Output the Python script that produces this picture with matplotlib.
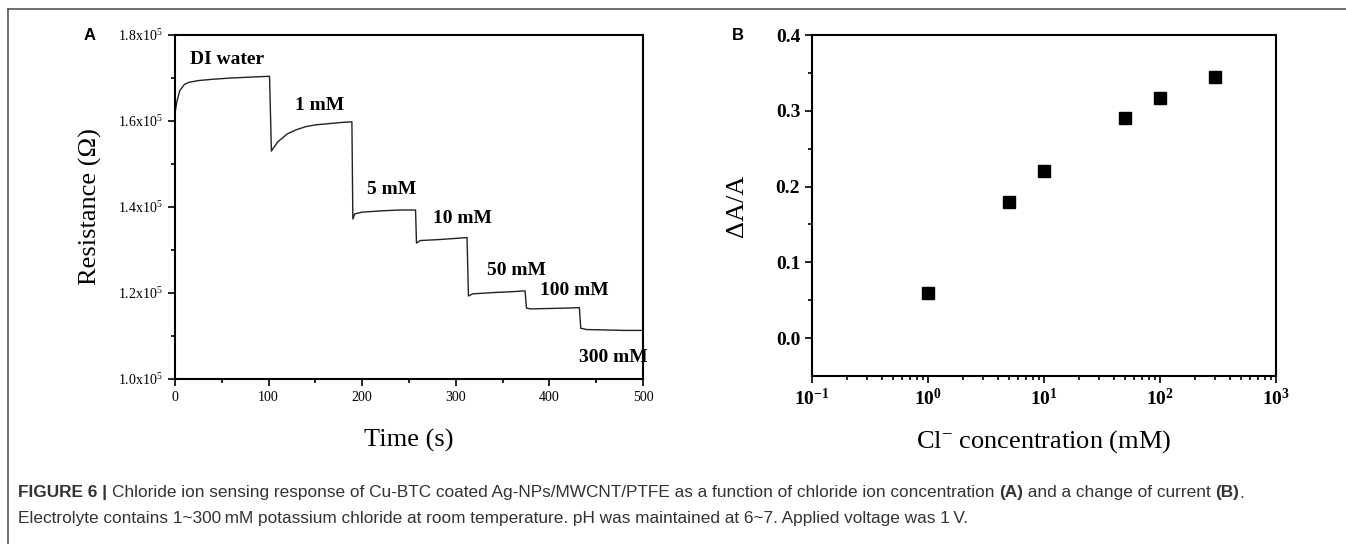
import matplotlib
matplotlib.use('Agg')
import matplotlib.pyplot as plt
from matplotlib.lines import Line2D
from matplotlib.ticker import FixedLocator, MultipleLocator, LogLocator, NullFormatter

plt.rcParams['font.family'] = ['Liberation Serif', 'DejaVu Serif']
plt.rcParams['mathtext.fontset'] = 'custom'
plt.rcParams['mathtext.rm'] = 'Liberation Serif'
plt.rcParams['mathtext.bf'] = 'Liberation Serif:bold'
plt.rcParams['mathtext.it'] = 'Liberation Serif:italic'

# panel A: resistance trace (s, x1e5 ohm)
time_s = [0, 2, 5, 10, 15, 25, 40, 60, 80, 101,
          103, 105, 110, 120, 130, 140, 150, 165, 180, 189,
          190, 192, 200, 220, 240, 257,
          258, 262, 280, 300, 312,
          313.5, 318, 340, 360, 374,
          375.5, 380, 400, 420, 432,
          433.5, 440, 460, 480, 500]
resist = [1.618, 1.645, 1.670, 1.685, 1.690, 1.694, 1.697, 1.700, 1.702, 1.704,
          1.530, 1.537, 1.552, 1.570, 1.580, 1.587, 1.591, 1.594, 1.597, 1.598,
          1.372, 1.384, 1.388, 1.391, 1.393, 1.393,
          1.316, 1.322, 1.324, 1.327, 1.329,
          1.193, 1.198, 1.201, 1.203, 1.205,
          1.165, 1.163, 1.164, 1.165, 1.166,
          1.118, 1.115, 1.114, 1.113, 1.113]

step_labels = ['DI water', '1 mM', '5 mM', '10 mM', '50 mM', '100 mM', '300 mM']
label_t = [16, 128, 205, 276, 333, 390, 432]
label_r = [1.742, 1.635, 1.44, 1.374, 1.253, 1.205, 1.05]

# panel B: current change vs chloride concentration
conc_mM = [1, 5, 10, 50, 100, 300]
delta_a = [0.060, 0.180, 0.220, 0.291, 0.317, 0.345]

fig = plt.figure(figsize=(13.46, 5.44), dpi=100)

# frame lines of the figure box
fig.add_artist(Line2D([8 / 1346, 1], [1 - 9 / 544, 1 - 9 / 544], color='#555555', lw=1.2))
fig.add_artist(Line2D([8 / 1346, 8 / 1346], [0, 1 - 9 / 544], color='#555555', lw=1.2))

# ---- panel A
ax1 = fig.add_axes([175 / 1346, 1 - 379 / 544, 468 / 1346, 344 / 544])
ax1.plot(time_s, resist, color='#222222', lw=1.0)
ax1.set_xlim(0, 500)
ax1.set_ylim(1.0, 1.8)
ax1.xaxis.set_major_locator(MultipleLocator(100))
ax1.xaxis.set_minor_locator(MultipleLocator(50))
ax1.yaxis.set_major_locator(FixedLocator([1.0, 1.2, 1.4, 1.6, 1.8]))
ax1.yaxis.set_minor_locator(MultipleLocator(0.1))
ax1.set_yticklabels([r'$\mathregular{%.1fx10^5}$' % v for v in [1.0, 1.2, 1.4, 1.6, 1.8]])
ax1.tick_params(which='both', direction='out', top=False, right=False, width=1.2)
ax1.tick_params(which='major', length=5, labelsize=10)
ax1.tick_params(which='minor', length=3)
for s in ax1.spines.values():
    s.set_linewidth(1.5)
ax1.set_xlabel('Time (s)', fontsize=19, labelpad=18)
ax1.set_ylabel('Resistance (\u03a9)', fontsize=19, labelpad=12)
for lab, t, r in zip(step_labels, label_t, label_r):
    ax1.text(t, r, lab, fontsize=14, fontweight='bold', va='center', ha='left')
fig.text(90 / 1346, 1 - 35 / 544, 'A', fontsize=12, fontweight='bold',
         family='Liberation Sans', ha='center', va='center')

# ---- panel B
ax2 = fig.add_axes([812 / 1346, 1 - 376 / 544, 464 / 1346, 341 / 544])
ax2.plot(conc_mM, delta_a, 's', color='black', markersize=8.5)
ax2.set_xscale('log')
ax2.set_xlim(0.1, 1000)
ax2.set_ylim(-0.05, 0.4)
ax2.yaxis.set_major_locator(FixedLocator([0.0, 0.1, 0.2, 0.3, 0.4]))
ax2.yaxis.set_minor_locator(FixedLocator([0.05, 0.15, 0.25, 0.35]))
ax2.set_yticklabels(['%.1f' % v for v in [0.0, 0.1, 0.2, 0.3, 0.4]], fontweight='bold')
ax2.xaxis.set_major_locator(FixedLocator([0.1, 1, 10, 100, 1000]))
ax2.xaxis.set_minor_locator(LogLocator(base=10, subs=range(2, 10)))
ax2.xaxis.set_minor_formatter(NullFormatter())
ax2.set_xticklabels([r'$\mathbf{10^{%d}}$' % e for e in [-1, 0, 1, 2, 3]])
ax2.tick_params(which='both', direction='out', top=False, right=False, width=1.2)
ax2.tick_params(which='major', length=5, labelsize=14)
ax2.tick_params(which='minor', length=3)
for s in ax2.spines.values():
    s.set_linewidth(1.5)
ax2.set_xlabel(r'Cl$^{\mathregular{-}}$ concentration (mM)', fontsize=19, labelpad=14)
ax2.set_ylabel('\u0394A/A', fontsize=19, labelpad=20)
fig.text(738 / 1346, 1 - 35 / 544, 'B', fontsize=12, fontweight='bold',
         family='Liberation Sans', ha='center', va='center')

# ---- caption, pieces placed one after another
cap_lines = [
    [('FIGURE 6 | ', 'bold'),
     ('Chloride ion sensing response of Cu-BTC coated Ag-NPs/MWCNT/PTFE as a function of chloride ion concentration ', 'normal'),
     ('(A)', 'bold'), (' and a change of current ', 'normal'), ('(B)', 'bold'), ('.', 'normal')],
    [('Electrolyte contains 1~300\u2009mM potassium chloride at room temperature. pH was maintained at 6~7. Applied voltage was 1\u2009V.', 'normal')],
]
cap_y = [493, 518]
renderer = fig.canvas.get_renderer()
for pieces, y in zip(cap_lines, cap_y):
    x = 18
    for txt, w in pieces:
        t = fig.text(x / 1346, 1 - y / 544, txt, fontsize=12.4, fontweight=w,
                     family=['Liberation Sans', 'DejaVu Sans'], color='#333333',
                     ha='left', va='center')
        bb = t.get_window_extent(renderer)
        x += bb.width

fig.savefig('out.png', dpi=100, facecolor='white')
